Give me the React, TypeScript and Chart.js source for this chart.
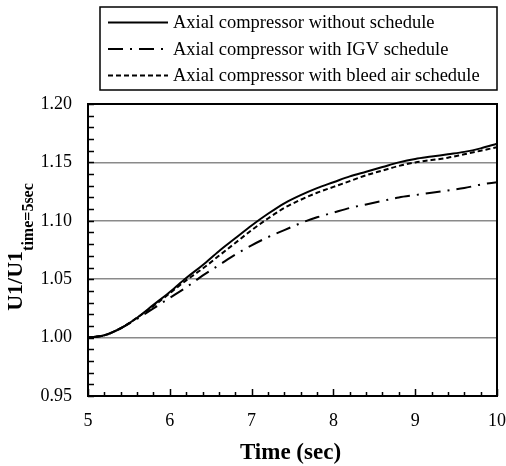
import React, { useEffect, useRef } from "react";
import { Chart, registerables } from "chart.js";

Chart.register(...registerables);

const times = [5.0, 5.2, 5.4, 5.6, 5.8, 6.0, 6.2, 6.4, 6.6, 6.8, 7.0, 7.2, 7.4, 7.6, 7.8, 8.0, 8.2, 8.4, 8.6, 8.8, 9.0, 9.2, 9.4, 9.6, 9.8, 10.0];
const withoutSchedule = [1.0, 1.002, 1.008, 1.017, 1.028, 1.039, 1.051, 1.062, 1.074, 1.085, 1.096, 1.106, 1.115, 1.122, 1.128, 1.133, 1.138, 1.142, 1.146, 1.15, 1.153, 1.155, 1.157, 1.159, 1.162, 1.166];
const igvSchedule = [1.0, 1.002, 1.008, 1.016, 1.025, 1.034, 1.043, 1.053, 1.062, 1.071, 1.079, 1.086, 1.092, 1.098, 1.103, 1.107, 1.111, 1.114, 1.117, 1.12, 1.122, 1.124, 1.126, 1.128, 1.131, 1.133];
const bleedSchedule = [1.0, 1.002, 1.008, 1.017, 1.027, 1.038, 1.049, 1.059, 1.07, 1.081, 1.092, 1.102, 1.111, 1.118, 1.124, 1.129, 1.134, 1.139, 1.143, 1.147, 1.15, 1.152, 1.154, 1.157, 1.16, 1.163];
const seriesLabels = [
  "Axial compressor without schedule",
  "Axial compressor with IGV schedule",
  "Axial compressor with bleed air schedule",
];
const xTitle = "Time (sec)";
const yTitleMain = "U1/U1";
const yTitleSub = "time=5sec";

const SERIF = "'Liberation Serif', 'Times New Roman', serif";

const framePlugin = {
  id: "frameTicks",
  afterDatasetsDraw(chart: any) {
    const { ctx, chartArea: a, scales } = chart;
    const xs = scales.x;
    const ys = scales.y;
    ctx.save();
    ctx.strokeStyle = "#000";
    ctx.lineWidth = 1.5;
    ctx.beginPath();
    for (let i = 0; i <= 25; i++) {
      const v = 0.95 + i * 0.01;
      const py = Math.round(ys.getPixelForValue(v)) + 0.5;
      const len = 6;
      ctx.moveTo(a.left, py);
      ctx.lineTo(a.left + len, py);
    }
    for (let i = 0; i <= 25; i++) {
      const v = 5 + i * 0.2;
      const px = Math.round(xs.getPixelForValue(v)) + 0.5;
      const len = i % 5 === 0 ? 7 : 4;
      ctx.moveTo(px, a.bottom);
      ctx.lineTo(px, a.bottom - len);
    }
    ctx.stroke();
    ctx.lineWidth = 2;
    ctx.strokeRect(a.left, a.top, a.right - a.left, a.bottom - a.top);
    ctx.restore();
  },
  afterDraw(chart: any) {
    const { ctx, chartArea: a } = chart;
    ctx.save();
    ctx.fillStyle = "#000";
    ctx.font = `bold 23px ${SERIF}`;
    ctx.textAlign = "center";
    ctx.textBaseline = "middle";
    ctx.fillText(xTitle, (a.left + a.right) / 2 - 2, 453);
    ctx.translate(21.5, (a.top + a.bottom) / 2 - 3);
    ctx.rotate(-Math.PI / 2);
    ctx.textAlign = "left";
    ctx.textBaseline = "alphabetic";
    ctx.font = `bold 22px ${SERIF}`;
    const w1 = ctx.measureText(yTitleMain).width;
    ctx.font = `bold 16px ${SERIF}`;
    const w2 = ctx.measureText(yTitleSub).width;
    const start = -(w1 + w2) / 2;
    ctx.font = `bold 22px ${SERIF}`;
    ctx.fillText(yTitleMain, start, 0);
    ctx.font = `bold 16px ${SERIF}`;
    ctx.fillText(yTitleSub, start + w1, 11.5);
    ctx.restore();

    ctx.save();
    const bx = 100, by = 7, bw = 397, bh = 83;
    ctx.strokeStyle = "#000";
    ctx.lineWidth = 1.5;
    ctx.fillStyle = "#fff";
    ctx.fillRect(bx, by, bw, bh);
    ctx.strokeRect(bx, by, bw, bh);
    const rowsY = [22.5, 49, 75.5];
    chart.data.datasets.forEach((ds: any, i: number) => {
      const y = rowsY[i];
      ctx.beginPath();
      ctx.lineWidth = 2;
      ctx.setLineDash(ds.borderDash || []);
      ctx.moveTo(108, y);
      ctx.lineTo(168, y);
      ctx.stroke();
      ctx.setLineDash([]);
      ctx.fillStyle = "#000";
      ctx.font = `18.5px ${SERIF}`;
      ctx.textAlign = "left";
      ctx.textBaseline = "middle";
      ctx.fillText(ds.label, 173, y + 1);
    });
    ctx.restore();
  },
};

function mkData(values: number[]) {
  return times.map((t, i) => ({ x: t, y: values[i] }));
}

export default function App() {
  const ref = useRef<HTMLCanvasElement | null>(null);
  useEffect(() => {
    if (!ref.current) return;
    const common = {
      borderColor: "#000",
      borderWidth: 2,
      pointRadius: 0,
      fill: false,
      cubicInterpolationMode: "monotone" as const,
    };
    const chart = new Chart(ref.current, {
      type: "line",
      data: {
        datasets: [
          { ...common, label: seriesLabels[0], data: mkData(withoutSchedule), borderDash: [] },
          { ...common, label: seriesLabels[1], data: mkData(igvSchedule), borderDash: [15, 7, 2, 7] },
          { ...common, label: seriesLabels[2], data: mkData(bleedSchedule), borderDash: [5, 3] },
        ],
      },
      options: {
        animation: false,
        responsive: false,
        devicePixelRatio: 1,
        layout: { padding: { left: 0, top: 104, right: 9, bottom: 0 } },
        plugins: { legend: { display: false }, tooltip: { enabled: false }, title: { display: false } },
        scales: {
          x: {
            type: "linear",
            min: 5,
            max: 10,
            border: { display: false },
            grid: { display: false, drawTicks: false },
            ticks: {
              stepSize: 1,
              padding: 14,
              color: "#000",
              font: { family: SERIF, size: 18 },
              maxRotation: 0,
              callback: (v: any) => String(v),
            },
            afterFit: (s: any) => { s.height = 70; s.paddingLeft = 0; s.paddingRight = 0; },
          },
          y: {
            min: 0.95,
            max: 1.2,
            border: { display: false },
            grid: {
              drawTicks: false,
              lineWidth: 1.5,
              color: (c: any) => {
                const v = c.tick ? c.tick.value : 0;
                return v < 0.97 || v > 1.18 ? "rgba(0,0,0,0)" : "#8a8a8a";
              },
            },
            ticks: {
              stepSize: 0.05,
              padding: 16,
              color: "#000",
              font: { family: SERIF, size: 18 },
              callback: (v: any) => Number(v).toFixed(2),
            },
            afterFit: (s: any) => { s.width = 88; s.paddingTop = 0; s.paddingBottom = 0; },
          },
        },
      },
      plugins: [framePlugin],
    });
    return () => chart.destroy();
  }, []);
  return (
    <div style={{ position: "absolute", left: 0, top: 0, width: 506, height: 466, background: "#fff" }}>
      <canvas ref={ref} width={506} height={466} style={{ width: 506, height: 466 }} />
    </div>
  );
}
